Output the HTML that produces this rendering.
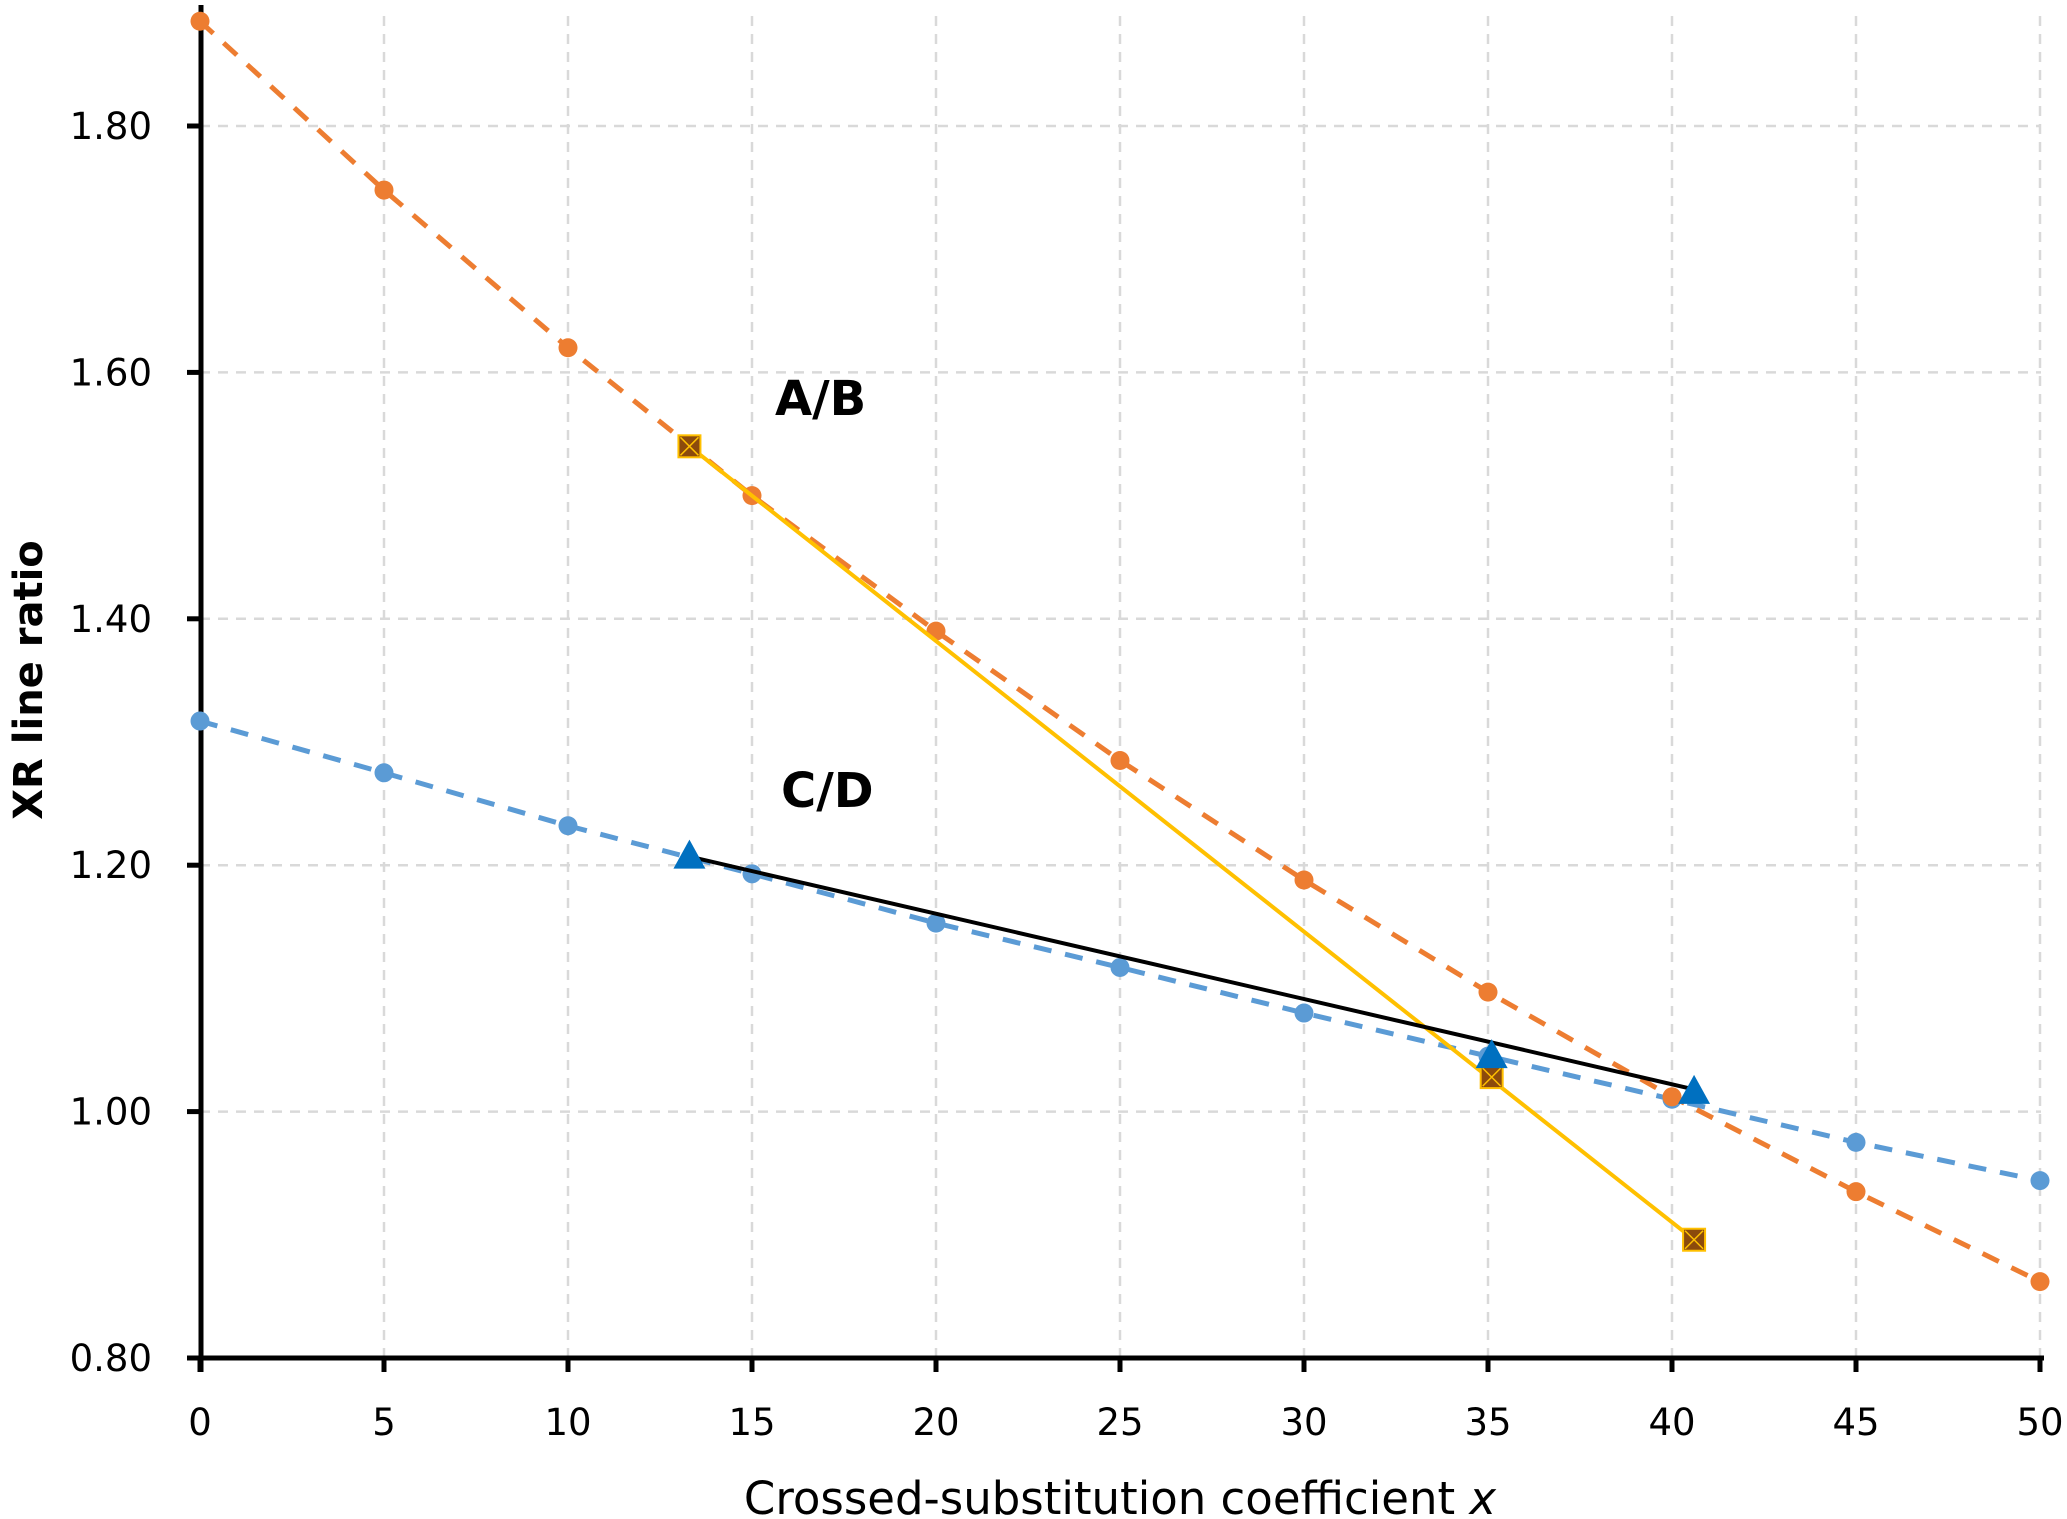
<!DOCTYPE html>
<html><head><meta charset="utf-8"><style>
html,body{margin:0;padding:0;background:#fff;}
svg{display:block;}
text{font-family:"DejaVu Sans","Liberation Sans",sans-serif;fill:#000;}
</style></head><body>
<svg id="s" width="2067" height="1519" viewBox="0 0 2067 1519" xmlns="http://www.w3.org/2000/svg"></svg>
<script>
const s=document.getElementById('s');
const X=u=>200+36.8*u, Y=v=>1358-(v-0.8)*1232;
let h='';
for(let u=5;u<=50;u+=5)h+=`<line x1="${X(u)}" y1="16" x2="${X(u)}" y2="1358" stroke="#d9d9d9" stroke-width="2.5" stroke-dasharray="10,8"/>`;
for(let v=1.0;v<1.81;v+=0.2)h+=`<line x1="200" y1="${Y(v)}" x2="2041" y2="${Y(v)}" stroke="#d9d9d9" stroke-width="2.5" stroke-dasharray="10,8"/>`;
h+=`<line x1="201" y1="5" x2="201" y2="1372" stroke="#000" stroke-width="5"/>`;
h+=`<line x1="187" y1="1358" x2="2044" y2="1358" stroke="#000" stroke-width="5"/>`;
for(let u=0;u<=50;u+=5){h+=`<line x1="${X(u)}" y1="1358" x2="${X(u)}" y2="1372" stroke="#000" stroke-width="5"/>`;
h+=`<text x="${X(u)}" y="1435" font-size="37" text-anchor="middle">${u}</text>`;}
for(let i=0;i<=5;i++){let v=0.8+0.2*i;h+=`<line x1="187" y1="${Y(v)}" x2="201" y2="${Y(v)}" stroke="#000" stroke-width="5"/>`;
h+=`<text x="152" y="${Y(v)+13}" font-size="37" text-anchor="end">${v.toFixed(2)}</text>`;}
const o=[1.885,1.748,1.620,1.500,1.390,1.285,1.188,1.097,1.012,0.935,0.862];
const b=[1.317,1.275,1.232,1.193,1.153,1.117,1.080,1.045,1.010,0.975,0.944];
function ser(d,c){let p=d.map((v,i)=>X(i*5)+','+Y(v)).join(' ');
let r=`<polyline points="${p}" fill="none" stroke="${c}" stroke-width="5" stroke-dasharray="18,14"/>`;
d.forEach((v,i)=>r+=`<circle cx="${X(i*5)}" cy="${Y(v)}" r="9.5" fill="${c}"/>`);return r;}
h+=ser(b,'#5b9bd5');h+=ser(o,'#ed7d31');
h+=`<line x1="${X(13.3)}" y1="${Y(1.540)}" x2="${X(40.6)}" y2="${Y(0.896)}" stroke="#ffc000" stroke-width="4"/>`;
h+=`<line x1="${X(13.3)}" y1="${Y(1.207)}" x2="${X(40.6)}" y2="${Y(1.018)}" stroke="#000" stroke-width="4"/>`;
[[13.3,1.540],[35.1,1.028],[40.6,0.896]].forEach(([u,v])=>{let x=X(u),y=Y(v);
h+=`<rect x="${x-11}" y="${y-11}" width="22" height="22" fill="#8b4a0c" stroke="#ffc000" stroke-width="2"/><path d="M${x-9} ${y-9}L${x+9} ${y+9}M${x+9} ${y-9}L${x-9} ${y+9}" stroke="#ffc000" stroke-width="1.5"/>`;});
[[13.3,1.207],[35.1,1.045],[40.6,1.016]].forEach(([u,v])=>{let x=X(u),y=Y(v);
h+=`<polygon points="${x},${y-17} ${x-16},${y+12} ${x+16},${y+12}" fill="#0070c0"/>`;});
h+=`<text x="775" y="415" font-size="48" font-weight="bold">A/B</text>`;
h+=`<text x="781" y="807" font-size="48" font-weight="bold">C/D</text>`;
h+=`<text x="1120" y="1514" font-size="45" text-anchor="middle">Crossed-substitution coefficient <tspan font-style="italic">x</tspan></text>`;
h+=`<text transform="translate(42,680) rotate(-90)" font-size="40" font-weight="bold" text-anchor="middle">XR line ratio</text>`;
s.innerHTML=h;
</script>
</body></html>
